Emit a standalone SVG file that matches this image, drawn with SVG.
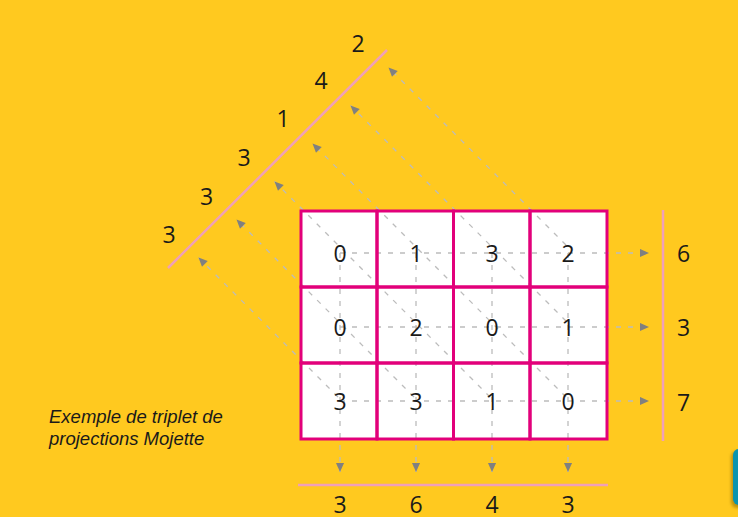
<svg xmlns="http://www.w3.org/2000/svg" width="738" height="517" viewBox="0 0 738 517">
  <defs>
    <marker id="arr" viewBox="0 0 10 10" refX="10" refY="5" markerWidth="10" markerHeight="9" markerUnits="userSpaceOnUse" orient="auto">
      <path d="M0,0.5 L10,5 L0,9.5 Z" fill="#808080"/>
    </marker>
    <filter id="sh" x="-50%" y="-20%" width="200%" height="150%">
      <feGaussianBlur stdDeviation="1.5"/>
    </filter>
  </defs>
  <style>
    .dash { stroke: #bcbcbc; stroke-width: 1.3; stroke-dasharray: 5 7; fill: none; }
    .cell { fill: none; stroke: #e2007a; stroke-width: 3; }
    .axis { stroke: #f0a0b8; stroke-width: 2.5; fill: none; }
    .num { font-family: "Open Sans", "Liberation Sans", sans-serif; font-size: 23px; fill: #1a1a1a; text-anchor: middle; }
    .cap { font-family: "Liberation Sans", Arial, sans-serif; font-style: italic; font-size: 18.5px; fill: #1a1a1a; }
  </style>
  <rect x="0" y="0" width="738" height="517" fill="#ffc91f"/>

  <!-- teal tab at right edge -->
  <g id="tab">
    <rect x="731" y="451" width="20" height="57" rx="6" fill="#7a6000" opacity="0.5" filter="url(#sh)"/>
    <rect x="733" y="449" width="20" height="56" rx="6" fill="#0a94ae"/>
  </g>

  <!-- white cells -->
  <g id="cells-bg">
    <rect x="301" y="211" width="306" height="228" fill="#ffffff"/>
  </g>

  <!-- connectors -->
  <g id="connectors">
    <!-- horizontal projections -->
    <line class="dash" x1="340" y1="253" x2="649" y2="253" marker-end="url(#arr)"/>
    <line class="dash" x1="340" y1="327" x2="649" y2="327" marker-end="url(#arr)"/>
    <line class="dash" x1="340" y1="401" x2="649" y2="401" marker-end="url(#arr)"/>
    <!-- vertical projections -->
    <line class="dash" x1="340" y1="253" x2="340" y2="472" marker-end="url(#arr)"/>
    <line class="dash" x1="416" y1="253" x2="416" y2="472" marker-end="url(#arr)"/>
    <line class="dash" x1="492" y1="253" x2="492" y2="472" marker-end="url(#arr)"/>
    <line class="dash" x1="568" y1="253" x2="568" y2="472" marker-end="url(#arr)"/>
    <!-- diagonal projections -->
    <line class="dash" x1="566" y1="245" x2="388.5" y2="67.5" marker-end="url(#arr)"/>
    <line class="dash" x1="566" y1="321" x2="350.5" y2="105.5" marker-end="url(#arr)"/>
    <line class="dash" x1="566" y1="397" x2="312.5" y2="143.5" marker-end="url(#arr)"/>
    <line class="dash" x1="490" y1="397" x2="274.5" y2="181.5" marker-end="url(#arr)"/>
    <line class="dash" x1="414" y1="397" x2="236.5" y2="219.5" marker-end="url(#arr)"/>
    <line class="dash" x1="338" y1="397" x2="198.5" y2="257.5" marker-end="url(#arr)"/>
  </g>

  <!-- grid -->
  <g id="grid">
    <rect class="cell" x="301" y="211" width="76" height="76"/>
    <rect class="cell" x="377" y="211" width="76.5" height="76"/>
    <rect class="cell" x="453.5" y="211" width="76.5" height="76"/>
    <rect class="cell" x="530" y="211" width="77" height="76"/>
    <rect class="cell" x="301" y="287" width="76" height="76"/>
    <rect class="cell" x="377" y="287" width="76.5" height="76"/>
    <rect class="cell" x="453.5" y="287" width="76.5" height="76"/>
    <rect class="cell" x="530" y="287" width="77" height="76"/>
    <rect class="cell" x="301" y="363" width="76" height="76"/>
    <rect class="cell" x="377" y="363" width="76.5" height="76"/>
    <rect class="cell" x="453.5" y="363" width="76.5" height="76"/>
    <rect class="cell" x="530" y="363" width="77" height="76"/>
  </g>

  <g id="cell-values">
    <text class="num" x="340" y="262">0</text>
    <text class="num" x="416" y="262">1</text>
    <text class="num" x="492" y="262">3</text>
    <text class="num" x="568" y="262">2</text>
    <text class="num" x="340" y="336">0</text>
    <text class="num" x="416" y="336">2</text>
    <text class="num" x="492" y="336">0</text>
    <text class="num" x="568" y="336">1</text>
    <text class="num" x="340" y="410">3</text>
    <text class="num" x="416" y="410">3</text>
    <text class="num" x="492" y="410">1</text>
    <text class="num" x="568" y="410">0</text>
  </g>

  <!-- projection axes -->
  <g id="axis-diag">
    <line class="axis" x1="168" y1="268" x2="387" y2="50"/>
    <text class="num" x="358" y="52">2</text>
    <text class="num" x="321" y="89">4</text>
    <text class="num" x="283" y="127">1</text>
    <text class="num" x="244" y="166">3</text>
    <text class="num" x="206.5" y="205">3</text>
    <text class="num" x="169" y="243">3</text>
  </g>
  <g id="axis-right">
    <line class="axis" x1="663" y1="210" x2="663" y2="441"/>
    <text class="num" x="683.5" y="262">6</text>
    <text class="num" x="683.5" y="336">3</text>
    <text class="num" x="683.5" y="411">7</text>
  </g>
  <g id="axis-bottom">
    <line class="axis" x1="298" y1="485" x2="608" y2="485" stroke-width="3"/>
    <text class="num" x="340" y="513">3</text>
    <text class="num" x="416" y="513">6</text>
    <text class="num" x="492" y="513">4</text>
    <text class="num" x="568" y="513">3</text>
  </g>

  <g id="caption">
    <text class="cap" x="49" y="423">Exemple de triplet de</text>
    <text class="cap" x="49" y="445">projections Mojette</text>
  </g>
</svg>
